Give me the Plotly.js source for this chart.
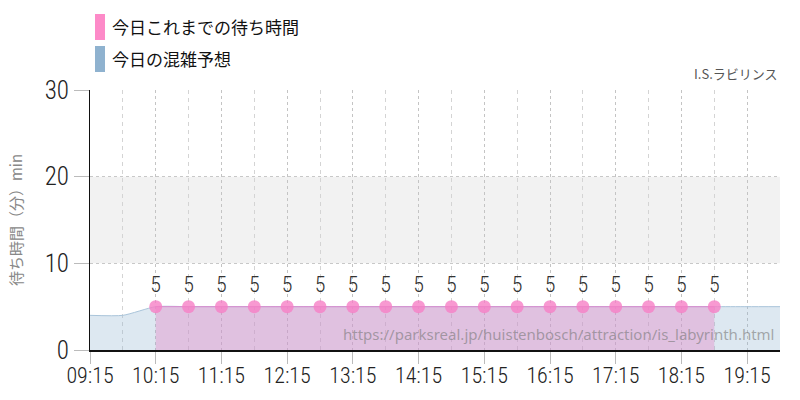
<!DOCTYPE html>
<html>
<head>
<meta charset="utf-8">
<script src="https://cdn.plot.ly/plotly-3.0.1.min.js"></script>
<style>
  body { margin: 0; background: #fff; }
  #chart { width: 800px; height: 400px; }
</style>
</head>
<body>
<div id="chart"></div>
<script>
const day = "2024-01-01 ";

// today's forecast (blue area)
const forecastTimes = ["09:15", "09:45", "10:15", "10:45", "11:15", "11:45", "12:15", "12:45",
  "13:15", "13:45", "14:15", "14:45", "15:15", "15:45", "16:15", "16:45", "17:15", "17:45",
  "18:15", "18:45", "19:15", "19:45"];
const forecastWait = [4, 4, 5, 5, 5, 5, 5, 5, 5, 5, 5, 5, 5, 5, 5, 5, 5, 5, 5, 5, 5, 5];

// actual wait times so far (pink)
const actualTimes = ["10:15", "10:45", "11:15", "11:45", "12:15", "12:45", "13:15", "13:45",
  "14:15", "14:45", "15:15", "15:45", "16:15", "16:45", "17:15", "17:45", "18:15", "18:45"];
const actualWait = [5, 5, 5, 5, 5, 5, 5, 5, 5, 5, 5, 5, 5, 5, 5, 5, 5, 5];

const legendNames = ["今日これまでの待ち時間", "今日の混雑予想"];
const legendColors = ["#fd8ac8", "#8fb2cf"];

const numFont = "'Roboto Condensed', Roboto, sans-serif";
const jpFont = "'Noto Sans CJK JP', 'Noto Sans', sans-serif";
const xRange = [day + "09:15", day + "19:45"];

const forecast = {
  x: forecastTimes.map((t) => day + t),
  y: forecastWait,
  type: "scatter",
  mode: "lines",
  line: { color: "#a9c4da", width: 1, shape: "spline", smoothing: 0.6 },
  fill: "tozeroy",
  fillcolor: "rgba(143,178,207,0.3)",
  hoverinfo: "skip",
  showlegend: false,
};

// empty trace so the half-hour guide axis gets drawn
const guide = {
  x: forecastTimes.map((t) => day + t),
  y: forecastWait,
  xaxis: "x2",
  type: "scatter",
  mode: "none",
  hoverinfo: "skip",
  showlegend: false,
};

const actual = {
  x: actualTimes.map((t) => day + t),
  y: actualWait,
  type: "scatter",
  mode: "lines+markers+text",
  line: { color: "#d98ccf", width: 1 },
  marker: { color: "rgba(246,128,198,0.8)", size: 13 },
  fill: "tozeroy",
  fillcolor: "rgba(231,135,199,0.4)",
  text: actualWait.map(String),
  textposition: "top center",
  textfont: { family: numFont, size: 22, weight: 300, color: "#333" },
  showlegend: false,
};

// plot area is 690 x 260 px, legend sits in the top margin
const plotW = 690;
const plotH = 260;
const topM = 90;

const shapes = [
  {
    type: "rect", xref: "paper", yref: "y", x0: 0, x1: 1, y0: 10, y1: 20,
    fillcolor: "#f2f2f2", line: { width: 0 }, layer: "below",
  },
];
const annotations = [
  {
    xref: "paper", yref: "paper", x: 1, y: 1.02, xanchor: "right", yanchor: "bottom",
    text: "I.S.ラビリンス", showarrow: false,
    font: { family: jpFont, size: 13, color: "#555" },
  },
  {
    xref: "paper", yref: "paper", x: 0.995, y: 0.06, xanchor: "right", yanchor: "middle",
    text: "https://parksreal.jp/huistenbosch/attraction/is_labyrinth.html", showarrow: false,
    font: { family: "'Noto Sans', sans-serif", size: 15, color: "rgba(120,120,120,0.6)" },
  },
];

legendNames.forEach((name, i) => {
  const top = 14 + i * 32;
  shapes.push({
    type: "rect", xref: "paper", yref: "paper",
    x0: 5 / plotW, x1: 15 / plotW,
    y0: 1 + (topM - top - 26) / plotH, y1: 1 + (topM - top) / plotH,
    fillcolor: legendColors[i], line: { width: 0 },
  });
  annotations.push({
    xref: "paper", yref: "paper", x: 20 / plotW, y: 1 + (topM - top - 13) / plotH,
    xanchor: "left", yanchor: "middle", showarrow: false, text: name,
    font: { family: jpFont, size: 17, color: "#111" },
  });
});

const layout = {
  width: 800,
  height: 400,
  margin: { l: 90, r: 20, t: topM, b: 50 },
  paper_bgcolor: "#fff",
  plot_bgcolor: "#fff",
  showlegend: false,
  xaxis: {
    type: "date",
    range: xRange,
    tick0: day + "09:15",
    dtick: 3600000,
    tickformat: "%H:%M",
    ticks: "outside",
    ticklen: 12,
    tickcolor: "#bbb",
    ticklabelstandoff: -7,
    tickfont: { family: numFont, size: 22, weight: 300, color: "#222" },
    showgrid: true,
    gridcolor: "#c4c4c4",
    griddash: "dot",
    showline: true,
    linecolor: "#111",
    linewidth: 2,
    zeroline: false,
  },
  // half-hour dashed guides, no labels
  xaxis2: {
    type: "date",
    overlaying: "x",
    range: xRange,
    tick0: day + "09:45",
    dtick: 3600000,
    showticklabels: false,
    ticks: "",
    showgrid: true,
    gridcolor: "#d4d4d4",
    griddash: "4px,4px",
    showline: false,
    zeroline: false,
  },
  yaxis: {
    range: [0, 30],
    dtick: 10,
    ticks: "outside",
    ticklen: 15,
    tickcolor: "#bbb",
    tickfont: { family: numFont, size: 25, weight: 300, color: "#222" },
    showgrid: true,
    gridcolor: "#c8c8c8",
    griddash: "dot",
    showline: true,
    linecolor: "#111",
    linewidth: 1,
    zeroline: false,
    title: {
      text: "待ち時間（分）min",
      font: { family: jpFont, size: 15, color: "#888" },
      standoff: 18,
    },
  },
  shapes: shapes,
  annotations: annotations,
};

Plotly.newPlot("chart", [guide, forecast, actual], layout, { displayModeBar: false, staticPlot: true });
</script>
</body>
</html>
